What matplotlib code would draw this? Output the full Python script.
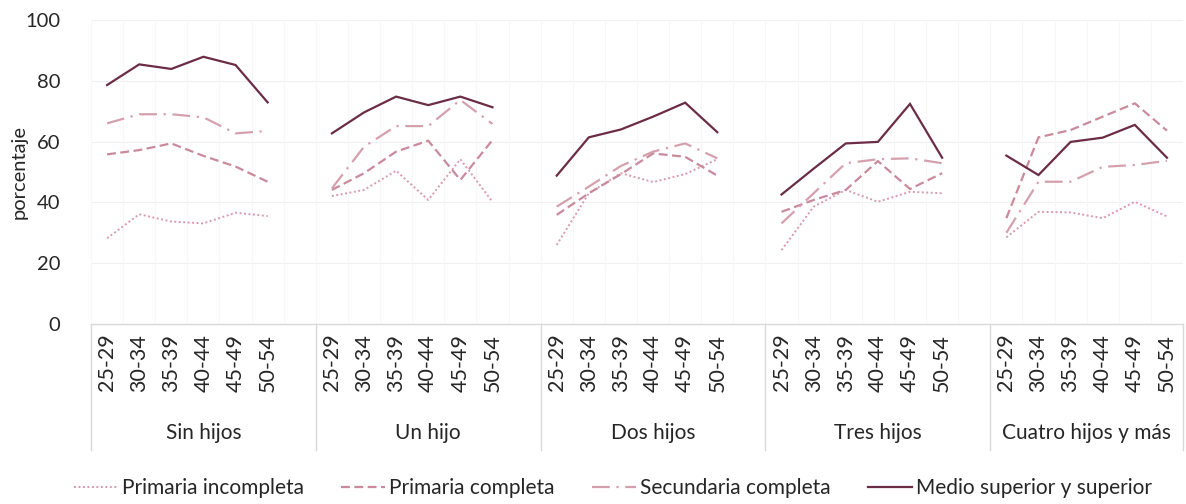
import matplotlib
matplotlib.use("Agg")
import matplotlib.pyplot as plt
import matplotlib.transforms as mtransforms
import numpy as np

plt.rcParams['font.family'] = ['Lato', 'DejaVu Sans']

groups = ["Sin hijos", "Un hijo", "Dos hijos", "Tres hijos", "Cuatro hijos y más"]
ages = ["25-29", "30-34", "35-39", "40-44", "45-49", "50-54"]

primaria_incompleta = [
    [28.2, 36.1, 33.7, 33.1, 36.6, 35.5],
    [42.1, 44.1, 50.4, 40.8, 54.2, 40.2],
    [26.0, 43.0, 49.6, 46.7, 49.3, 54.2],
    [24.3, 38.6, 44.1, 40.2, 43.5, 43.0],
    [28.5, 36.9, 36.7, 34.8, 40.2, 35.4],
]
primaria_completa = [
    [55.8, 57.2, 59.4, 55.3, 51.8, 46.8],
    [44.1, 49.6, 56.7, 60.3, 47.4, 60.5],
    [35.9, 43.0, 49.3, 56.1, 55.0, 48.8],
    [36.9, 40.8, 44.1, 53.6, 44.4, 49.6],
    [34.8, 61.4, 63.8, 68.2, 72.6, 63.6],
]
secundaria_completa = [
    [66.0, 69.0, 69.0, 68.0, 62.7, 63.5],
    [44.6, 58.3, 65.1, 65.1, 73.7, 65.8],
    [38.6, 45.2, 52.0, 56.7, 59.4, 54.5],
    [33.1, 43.0, 52.9, 54.2, 54.5, 52.9],
    [30.0, 46.8, 46.8, 51.7, 52.3, 53.7],
]
medio_superior = [
    [78.6, 85.4, 83.9, 87.9, 85.2, 72.9],
    [62.7, 69.6, 74.8, 72.0, 74.8, 71.3],
    [48.8, 61.4, 64.0, 68.2, 72.8, 63.1],
    [42.6, 51.1, 59.4, 59.9, 72.4, 54.7],
    [55.4, 49.0, 59.9, 61.3, 65.5, 54.7],
]

series_names = ["Primaria incompleta", "Primaria completa",
                "Secundaria completa", "Medio superior y superior"]
series_data = [primaria_incompleta, primaria_completa,
               secundaria_completa, medio_superior]
series_styles = [
    dict(color="#d89aac", lw=1.4, linestyle=(0, (1, 1.3))),
    dict(color="#c98a9c", lw=1.6, linestyle=(0, (4, 2))),
    dict(color="#d5a0ae", lw=1.6, linestyle=(0, (8, 3, 1, 3))),
    dict(color="#6b2c45", lw=1.6, linestyle="-"),
]
txt_color = "#262626"

fig = plt.figure(figsize=(11.86, 5.04), dpi=100)
ax = fig.add_axes([91/1186, 1 - 324/504, (1183 - 91)/1186, 304/504])

slot = 7  # 6 categories + 1 blank per group
n_slots = slot * (len(groups) - 1) + len(ages)

handles = []
for name, data, st in zip(series_names, series_data, series_styles):
    for g, vals in enumerate(data):
        xs = np.arange(len(ages)) + g * slot
        ln, = ax.plot(xs, vals, **st, solid_joinstyle='miter')
    handles.append(ln)

ax.set_xlim(-0.5, n_slots - 0.5)
ax.set_ylim(0, 100)
ax.set_yticks([0, 20, 40, 60, 80, 100])
ax.tick_params(axis='y', length=0, pad=22, labelsize=14.5, labelcolor=txt_color)

tick_pos = []
tick_lab = []
for g in range(len(groups)):
    for i, a in enumerate(ages):
        tick_pos.append(g * slot + i)
        tick_lab.append(a)
ax.set_xticks(tick_pos)
ax.set_xticklabels(tick_lab, rotation=90, fontsize=15.5, color=txt_color)
ax.tick_params(axis='x', length=0, pad=7)

for s in ["top", "right", "left"]:
    ax.spines[s].set_visible(False)
ax.spines["bottom"].set_color("#d9d9d9")
ax.spines["bottom"].set_linewidth(1.0)

# faint grid
for yv in [20, 40, 60, 80, 100]:
    ax.axhline(yv, color="#f0f0f0", lw=0.8, zorder=0)
for xv in np.arange(-0.5, n_slots, 1.0):
    ax.axvline(xv, color="#f7f7f7", lw=0.8, zorder=0)

# group separators and labels
trans = mtransforms.blended_transform_factory(ax.transData, ax.transAxes)
seps = [-0.5] + [g * slot - 0.5 for g in range(1, len(groups))] + [n_slots - 0.5]
for sx in seps:
    ax.plot([sx, sx], [0, -0.415], transform=trans, color="#d9d9d9",
            lw=1.0, clip_on=False)
for g, gname in enumerate(groups):
    left = seps[g]
    right = seps[g + 1]
    cx = (left + right) / 2
    ax.text(cx, -0.36, gname, transform=trans, ha="center", va="center",
            fontsize=15, color=txt_color)

ax.set_ylabel("porcentaje", fontsize=14.5, color=txt_color)
ax.yaxis.set_label_coords(-0.058, 0.5)

fig.legend(handles, series_names, loc="center", ncol=4,
           bbox_to_anchor=(613/1186, 1 - 488/504), frameon=False,
           fontsize=15, handlelength=2.1, handletextpad=0.2,
           columnspacing=1.8, labelcolor=txt_color)

fig.savefig("out.png", dpi=100)
